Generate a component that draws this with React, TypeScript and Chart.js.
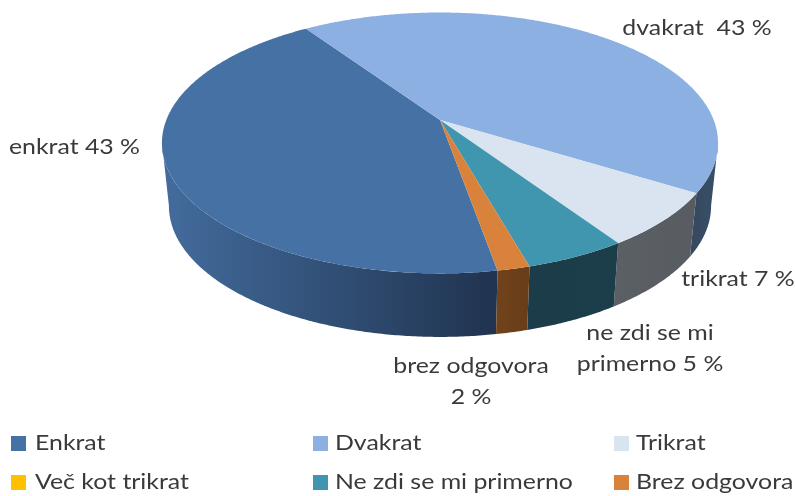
import React, { useEffect, useRef } from "react";
import { Chart, registerables } from "chart.js";

Chart.register(...registerables);

const categories = ["Enkrat", "Dvakrat", "Trikrat", "Več kot trikrat", "Ne zdi se mi primerno", "Brez odgovora"];
const shares = [43.3, 43.3, 6.8, 0, 5, 1.6];
const topColors = ["#4571a5", "#8cb0e1", "#dae4f0", "#ffc000", "#3f96ae", "#d9823b"];
const wallLeftColors = ["#436c9d", "#35485f", "#5b6065", "#ffc000", "#1b3c48", "#70431c"];
const wallRightColors = ["#20334f", "#3a4f68", "#585c62", "#ffc000", "#1c3d4a", "#693d19"];
const sliceLabels = [["enkrat 43 %"], ["dvakrat  43 %"], ["trikrat 7 %"], [], ["ne zdi se mi", "primerno 5 %"], ["brez odgovora", "2 %"]];

const labelAnchors = [
  { x: 74.5, y: 147 }, { x: 697, y: 28 }, { x: 738, y: 279 }, { x: 0, y: 0 }, { x: 650, y: 333 }, { x: 471, y: 366 },
];
const legendBoxX = [11, 313, 614];
const legendTextX = [35, 335, 636];
const legendRows = [443, 482];

const FONT = "Lato, sans-serif";
const TEXT_STRETCH = 1.13;
const deg = Math.PI / 180;
const apex = { x: 440, y: 120 };
const persp = { k: -0.176, R: 273.7, S: 126.4 };
const rimCenterY = 143;
const base = { cy: 206, sx: 0.975, sy: 1.004 };

function top(t: number) {
  const u = Math.cos(t), v = Math.sin(t);
  const w = 1 + persp.k * v;
  return { x: apex.x + (persp.R * u) / w, y: apex.y + (persp.S * v) / w };
}
function bottom(t: number) {
  const p = top(t);
  return { x: apex.x + (p.x - apex.x) * base.sx, y: base.cy + (p.y - rimCenterY) * base.sy };
}
function stretchedText(ctx: CanvasRenderingContext2D, s: string, x: number, y: number) {
  ctx.save();
  ctx.translate(x, y);
  ctx.scale(TEXT_STRETCH, 1);
  ctx.fillText(s, 0, 0);
  ctx.restore();
}

const pie3d = {
  id: "pie3d",
  beforeDatasetDraw(chart: any) {
    const ctx: CanvasRenderingContext2D = chart.ctx;
    const arcs = chart.getDatasetMeta(0).data;
    ctx.save();
    arcs.forEach((arc: any, i: number) => {
      const a = arc.startAngle, b = arc.endAngle;
      if (b - a < 1e-6) return;
      for (const k of [0, 2 * Math.PI]) {
        const lo = Math.max(a, 10 * deg + k), hi = Math.min(b, 170 * deg + k);
        if (hi <= lo) continue;
        const n = Math.max(2, Math.ceil((hi - lo) / (0.5 * deg)));
        const x0 = Math.min(bottom(lo).x, bottom(hi).x, top(lo).x, top(hi).x);
        const x1 = Math.max(bottom(lo).x, bottom(hi).x, top(lo).x, top(hi).x);
        const g = ctx.createLinearGradient(x0, 0, x1, 0);
        g.addColorStop(0, wallLeftColors[i]);
        g.addColorStop(1, wallRightColors[i]);
        ctx.beginPath();
        for (let j = 0; j <= n; j++) {
          const p = top(lo + ((hi - lo) * j) / n);
          j ? ctx.lineTo(p.x, p.y) : ctx.moveTo(p.x, p.y);
        }
        for (let j = n; j >= 0; j--) {
          const p = bottom(lo + ((hi - lo) * j) / n);
          ctx.lineTo(p.x, p.y);
        }
        ctx.closePath();
        ctx.fillStyle = g;
        ctx.fill();
      }
    });
    arcs.forEach((arc: any) => {
      const a = arc.startAngle, b = arc.endAngle;
      if (b - a < 1e-6) return;
      const n = Math.max(2, Math.ceil((b - a) / (0.5 * deg)));
      ctx.beginPath();
      ctx.moveTo(apex.x, apex.y);
      for (let j = 0; j <= n; j++) {
        const p = top(a + ((b - a) * j) / n);
        ctx.lineTo(p.x, p.y);
      }
      ctx.closePath();
      ctx.fillStyle = arc.options.backgroundColor;
      ctx.fill();
    });
    ctx.restore();
    return false;
  },
  afterDraw(chart: any) {
    const ctx: CanvasRenderingContext2D = chart.ctx;
    ctx.save();
    ctx.fillStyle = "#3a3a3a";
    ctx.font = `22px ${FONT}`;
    ctx.textAlign = "center";
    ctx.textBaseline = "middle";
    sliceLabels.forEach((lines, i) => {
      lines.forEach((line, j) => stretchedText(ctx, line, labelAnchors[i].x, labelAnchors[i].y + j * 31));
    });
    ctx.textAlign = "left";
    categories.forEach((name, i) => {
      const col = i % 3, cy = legendRows[Math.floor(i / 3)];
      ctx.fillStyle = topColors[i];
      ctx.fillRect(legendBoxX[col], cy - 7, 15, 15);
      ctx.fillStyle = "#3a3a3a";
      stretchedText(ctx, name, legendTextX[col], cy);
    });
    ctx.restore();
  },
};

export default function App() {
  const ref = useRef<HTMLCanvasElement>(null);
  useEffect(() => {
    const chart = new Chart(ref.current!, {
      type: "pie",
      data: { labels: categories, datasets: [{ data: shares, backgroundColor: topColors, borderWidth: 0 }] },
      options: {
        animation: false,
        responsive: false,
        rotation: 170,
        plugins: { legend: { display: false }, tooltip: { enabled: false } },
      },
      plugins: [pie3d],
    } as any);
    return () => chart.destroy();
  }, []);
  return (
    <div style={{ position: "absolute", left: 0, top: 0, width: 795, height: 496, background: "#fff" }}>
      <canvas ref={ref} width={795} height={496} style={{ display: "block", filter: "blur(0.4px)" }} />
    </div>
  );
}
